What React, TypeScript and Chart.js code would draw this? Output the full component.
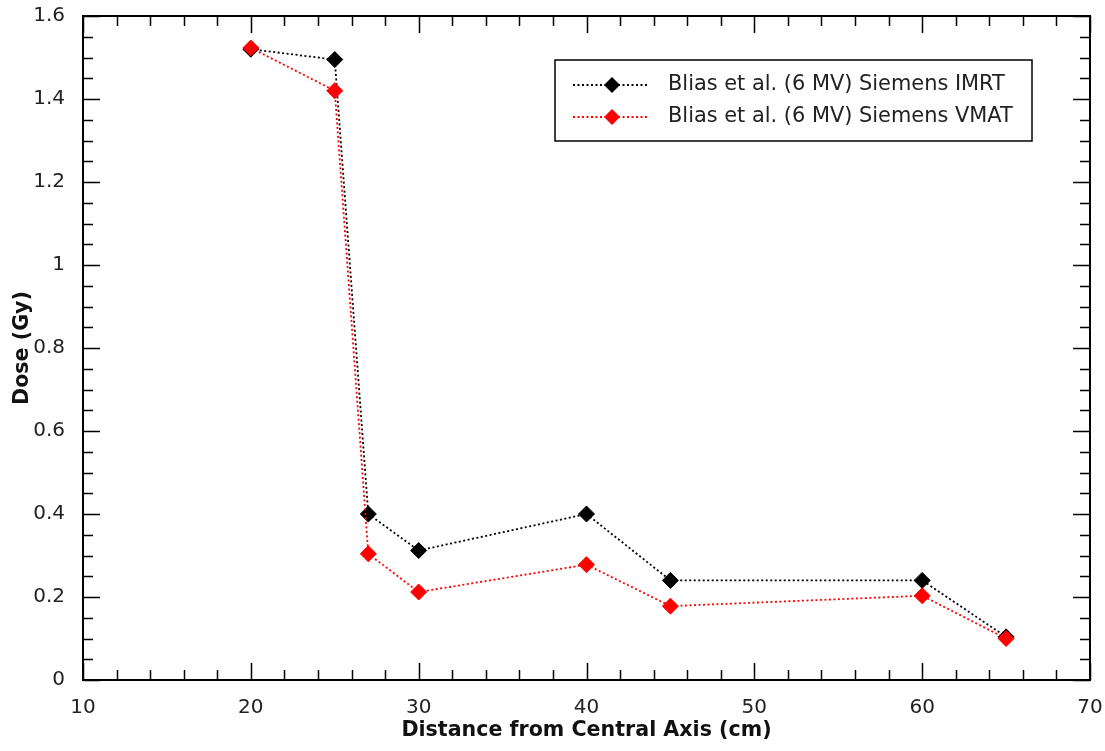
import React, { useEffect, useRef } from 'react';
import { Chart, registerables } from 'chart.js';

Chart.register(...registerables);

// ---- Data ----
const distances = [20, 25, 27, 30, 40, 45, 60, 65];
const imrtDose = [1.52, 1.495, 0.4, 0.312, 0.4, 0.24, 0.24, 0.104];
const vmatDose = [1.523, 1.42, 0.304, 0.212, 0.278, 0.178, 0.203, 0.1];
const seriesLabels = ['Blias et al. (6 MV) Siemens IMRT', 'Blias et al. (6 MV) Siemens VMAT'];
const seriesColors = ['#000000', '#ff0000'];

// ---- Axes ----
const xRange = [10, 70];
const xMajorStep = 10;
const xMinorStep = 2;
const yRange = [0, 1.6];
const yMajorStep = 0.2;
const yMinorStep = 0.05;
const xTitle = 'Distance from Central Axis (cm)';
const yTitle = 'Dose (Gy)';

const FONT = '"DejaVu Sans", Verdana, sans-serif';
const TEXT_COLOR = '#222222';

function isMajor(v: number, step: number) {
  const r = v / step;
  return Math.abs(r - Math.round(r)) < 1e-6;
}

const framePlugin = {
  id: 'frameTicks',
  beforeDatasetsDraw(chart: any) {
    const { ctx, chartArea: a, scales } = chart;
    const xs = scales.x;
    const ys = scales.y;
    ctx.save();
    ctx.strokeStyle = '#000';
    ctx.lineWidth = 1.5;
    ctx.beginPath();
    const nx = Math.round((xRange[1] - xRange[0]) / xMinorStep);
    for (let i = 0; i <= nx; i++) {
      const v = xRange[0] + i * xMinorStep;
      const px = Math.round(xs.getPixelForValue(v)) + 0.5;
      const len = isMajor(v, xMajorStep) ? 17 : 10;
      ctx.moveTo(px, a.bottom);
      ctx.lineTo(px, a.bottom - len);
      ctx.moveTo(px, a.top);
      ctx.lineTo(px, a.top + len);
    }
    const ny = Math.round((yRange[1] - yRange[0]) / yMinorStep);
    for (let i = 0; i <= ny; i++) {
      const v = yRange[0] + i * yMinorStep;
      const py = Math.round(ys.getPixelForValue(v)) + 0.5;
      const len = isMajor(v, yMajorStep) ? 17 : 10;
      ctx.moveTo(a.left, py);
      ctx.lineTo(a.left + len, py);
      ctx.moveTo(a.right, py);
      ctx.lineTo(a.right - len, py);
    }
    ctx.stroke();
    ctx.lineWidth = 2;
    ctx.strokeRect(a.left, a.top, a.right - a.left, a.bottom - a.top);
    ctx.restore();
  },
};

const legendPlugin = {
  id: 'boxLegend',
  afterDraw(chart: any) {
    const { ctx, chartArea: a } = chart;
    const boxW = 477;
    const boxH = 81;
    const boxRight = a.right - 58;
    const boxLeft = boxRight - boxW;
    const boxTop = a.top + 44;
    ctx.save();
    ctx.fillStyle = '#fff';
    ctx.fillRect(boxLeft, boxTop, boxW, boxH);
    ctx.strokeStyle = '#000';
    ctx.lineWidth = 1.5;
    ctx.strokeRect(boxLeft, boxTop, boxW, boxH);
    seriesLabels.forEach((label, i) => {
      const y = boxTop + 25 + i * 32;
      const color = seriesColors[i];
      ctx.strokeStyle = color;
      ctx.lineWidth = 1.8;
      ctx.setLineDash([2, 2.5]);
      ctx.beginPath();
      ctx.moveTo(boxLeft + 18, y);
      ctx.lineTo(boxLeft + 92, y);
      ctx.stroke();
      ctx.setLineDash([]);
      const cx = boxLeft + 57;
      const r = 8;
      ctx.fillStyle = color;
      ctx.beginPath();
      ctx.moveTo(cx - r, y);
      ctx.lineTo(cx, y - r);
      ctx.lineTo(cx + r, y);
      ctx.lineTo(cx, y + r);
      ctx.closePath();
      ctx.fill();
      ctx.fillStyle = TEXT_COLOR;
      ctx.font = `20.9px ${FONT}`;
      ctx.textBaseline = 'middle';
      ctx.textAlign = 'left';
      ctx.fillText(label, boxLeft + 113, y);
    });
    ctx.restore();
  },
};

export default function App() {
  const canvasRef = useRef<HTMLCanvasElement | null>(null);

  useEffect(() => {
    const canvas = canvasRef.current;
    if (!canvas) return;
    const makeData = (ys: number[]) => distances.map((x, i) => ({ x, y: ys[i] }));
    const seriesValues = [imrtDose, vmatDose];
    const chart = new Chart(canvas, {
      type: 'line',
      data: {
        datasets: seriesValues.map((vals, i) => ({
          label: seriesLabels[i],
          data: makeData(vals),
          borderColor: seriesColors[i],
          backgroundColor: seriesColors[i],
          borderWidth: 1.8,
          borderDash: [2, 2.5],
          pointStyle: 'rectRot',
          pointRadius: 8,
          pointBackgroundColor: seriesColors[i],
          pointBorderColor: seriesColors[i],
          pointBorderWidth: 1,
          tension: 0,
          fill: false,
          order: i === 0 ? 1 : 0,
        })),
      },
      options: {
        responsive: false,
        animation: false,
        layout: { padding: { top: 16, right: 15, bottom: 0, left: 0 } },
        plugins: {
          legend: { display: false },
          tooltip: { enabled: false },
        },
        events: [],
        scales: {
          x: {
            type: 'linear',
            min: xRange[0],
            max: xRange[1],
            grid: { display: false },
            border: { display: false },
            ticks: {
              stepSize: xMajorStep,
              font: { family: FONT, size: 20 },
              color: TEXT_COLOR,
              padding: 8,
              maxRotation: 0,
            },
            title: {
              display: true,
              text: xTitle,
              font: { family: FONT, size: 20.6, weight: 'bold' },
              color: '#111',
              padding: { top: 0, bottom: 8 },
            },
            afterFit(scale: any) {
              scale.height = 71;
              scale.paddingLeft = 0;
              scale.paddingRight = 0;
            },
          },
          y: {
            type: 'linear',
            min: yRange[0],
            max: yRange[1],
            grid: { display: false },
            border: { display: false },
            ticks: {
              stepSize: yMajorStep,
              font: { family: FONT, size: 20 },
              color: TEXT_COLOR,
              padding: 10,
              callback: (v: any) => String(Math.round(Number(v) * 10) / 10),
            },
            title: {
              display: true,
              text: yTitle,
              font: { family: FONT, size: 20.6, weight: 'bold' },
              color: '#111',
              padding: { top: 10, bottom: 0 },
            },
            afterFit(scale: any) {
              scale.width = 83;
              scale.paddingTop = 0;
              scale.paddingBottom = 0;
            },
          },
        },
      },
      plugins: [framePlugin, legendPlugin],
    });
    return () => chart.destroy();
  }, []);

  return (
    <div style={{ position: 'fixed', left: 0, top: 0, width: 1105, height: 751, background: '#fff' }}>
      <canvas ref={canvasRef} width={1105} height={751} />
    </div>
  );
}
